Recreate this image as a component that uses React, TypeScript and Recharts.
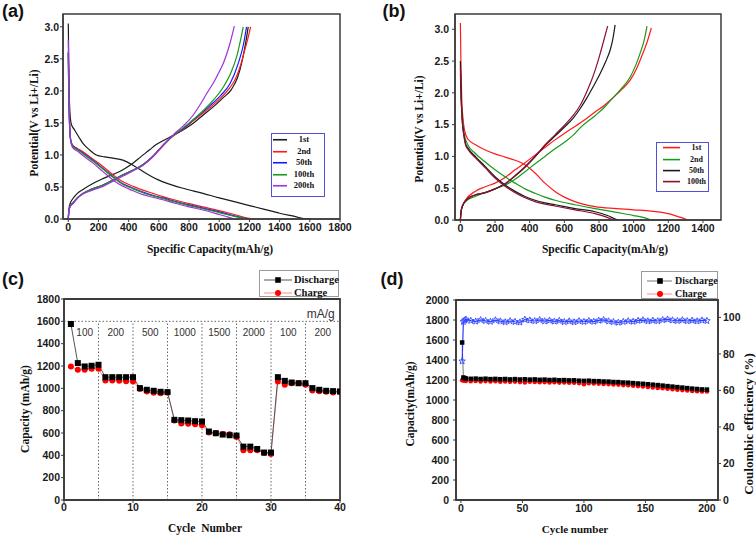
import React from 'react';
import { LineChart, Line, XAxis, YAxis, ReferenceArea, ReferenceLine, ReferenceDot, Legend } from 'recharts';

const SANS = '"Liberation Sans", Arial, sans-serif';
const SERIF = '"Liberation Serif", "Times New Roman", serif';
const AXIS = '#3c3c3c';
const tickText = { fill: '#1a1a1a', fontSize: 10.5, fontWeight: 700, fontFamily: SANS };

type Pt = [number, number];
const toXY = (a: Pt[]) => a.map(([x, y]) => ({ x, y }));

// ---------- (a) voltage profiles ----------
const capTicksA = [0, 200, 400, 600, 800, 1000, 1200, 1400, 1600, 1800];
const potTicks = [0, 0.5, 1, 1.5, 2, 2.5, 3];

const a1Dis: Pt[] = [[0,3.05],[3,2.5],[6,2.0],[10,1.7],[20,1.48],[42,1.39],[70,1.28],[97,1.18],[140,1.08],[186,1.0],[240,0.97],[296,0.95],[362,0.92],[428,0.84],[470,0.78],[517,0.71],[570,0.64],[627,0.58],[700,0.52],[760,0.48],[892,0.4],[1000,0.33],[1100,0.27],[1200,0.21],[1300,0.15],[1400,0.09],[1500,0.04],[1580,0],[1610,0]];
const a1Ch: Pt[] = [[0,0],[4,0.15],[12,0.24],[31,0.32],[60,0.4],[97,0.46],[160,0.55],[230,0.63],[300,0.7],[362,0.77],[428,0.87],[480,0.97],[539,1.08],[580,1.16],[627,1.22],[700,1.31],[760,1.39],[830,1.5],[892,1.62],[960,1.75],[1020,1.88],[1080,2.02],[1120,2.2],[1150,2.45],[1175,2.75],[1192,3.0]];
const a2Dis: Pt[] = [[0,2.6],[3,2.0],[8,1.5],[15,1.25],[25,1.17],[35,1.14],[60,1.1],[97,1.05],[160,0.94],[230,0.82],[296,0.69],[362,0.58],[430,0.51],[495,0.45],[560,0.4],[627,0.35],[700,0.3],[800,0.24],[892,0.19],[1000,0.13],[1100,0.07],[1180,0.02],[1220,0]];
const a2Ch: Pt[] = [[0,0],[4,0.13],[12,0.2],[31,0.25],[60,0.33],[97,0.4],[160,0.47],[230,0.53],[296,0.61],[362,0.69],[428,0.76],[495,0.84],[561,0.97],[627,1.14],[693,1.29],[760,1.4],[806,1.49],[870,1.61],[939,1.74],[1010,1.89],[1071,2.05],[1110,2.2],[1137,2.37],[1165,2.6],[1188,2.8],[1208,3.0]];
const a50Dis: Pt[] = [[0,2.6],[3,2.0],[8,1.5],[15,1.24],[25,1.16],[35,1.13],[60,1.09],[97,1.03],[160,0.92],[230,0.79],[296,0.66],[362,0.55],[430,0.48],[495,0.42],[560,0.37],[627,0.33],[700,0.28],[800,0.22],[892,0.17],[1000,0.11],[1100,0.05],[1190,0]];
const a50Ch: Pt[] = [[0,0],[4,0.13],[12,0.2],[31,0.25],[60,0.33],[97,0.4],[160,0.47],[230,0.53],[296,0.61],[362,0.69],[428,0.76],[495,0.85],[561,0.98],[627,1.15],[693,1.3],[760,1.41],[806,1.5],[870,1.63],[939,1.77],[1010,1.93],[1071,2.11],[1126,2.43],[1160,2.72],[1181,3.0]];
const a100Dis: Pt[] = [[0,2.6],[3,2.0],[8,1.5],[15,1.24],[25,1.15],[35,1.12],[60,1.08],[97,1.02],[160,0.91],[230,0.78],[296,0.65],[362,0.54],[430,0.47],[495,0.41],[560,0.36],[627,0.32],[700,0.27],[800,0.21],[892,0.16],[1000,0.1],[1100,0.04],[1180,0]];
const a100Ch: Pt[] = [[0,0],[4,0.13],[12,0.2],[31,0.25],[60,0.33],[97,0.4],[160,0.47],[230,0.53],[296,0.61],[362,0.69],[428,0.76],[495,0.85],[561,0.98],[627,1.15],[693,1.3],[760,1.42],[806,1.51],[870,1.64],[939,1.8],[1027,2.06],[1080,2.3],[1115,2.53],[1140,2.78],[1159,3.0]];
const a200Dis: Pt[] = [[0,2.8],[3,2.2],[8,1.6],[15,1.25],[25,1.13],[35,1.1],[60,1.06],[97,0.99],[160,0.88],[230,0.74],[296,0.61],[362,0.51],[430,0.44],[495,0.38],[560,0.34],[627,0.3],[700,0.25],[800,0.19],[892,0.14],[1000,0.07],[1060,0.03],[1100,0]];
const a200Ch: Pt[] = [[0,0],[4,0.12],[12,0.19],[31,0.24],[60,0.32],[97,0.39],[160,0.45],[230,0.51],[296,0.59],[362,0.67],[428,0.75],[495,0.84],[561,0.98],[627,1.15],[693,1.31],[760,1.45],[820,1.6],[872,1.78],[920,1.97],[960,2.12],[1000,2.3],[1027,2.43],[1050,2.58],[1071,2.74],[1100,3.01]];

// ---------- (b) voltage profiles ----------
const capTicksB = [0, 200, 400, 600, 800, 1000, 1200, 1400];

const b1Dis: Pt[] = [[0,3.1],[3,2.5],[8,1.9],[15,1.6],[25,1.4],[44,1.27],[90,1.18],[144,1.1],[200,1.04],[258,0.99],[316,0.94],[373,0.87],[431,0.74],[488,0.58],[546,0.45],[600,0.36],[661,0.29],[777,0.21],[900,0.18],[1000,0.16],[1100,0.14],[1200,0.1],[1260,0.05],[1295,0.02],[1310,0]];
const b1Ch: Pt[] = [[0,0],[4,0.13],[12,0.22],[29,0.31],[85,0.45],[140,0.52],[200,0.58],[258,0.67],[316,0.79],[373,0.9],[430,1.02],[488,1.14],[546,1.26],[604,1.37],[661,1.47],[720,1.58],[777,1.7],[830,1.8],[880,1.92],[930,2.05],[980,2.2],[1020,2.4],[1050,2.6],[1080,2.82],[1102,3.02]];
const b2Dis: Pt[] = [[0,2.3],[5,1.9],[12,1.6],[22,1.35],[40,1.2],[85,1.05],[140,0.92],[200,0.79],[258,0.68],[316,0.58],[373,0.49],[431,0.42],[488,0.36],[546,0.31],[661,0.24],[777,0.18],[900,0.12],[1000,0.07],[1070,0.03],[1100,0]];
const b2Ch: Pt[] = [[0,0],[4,0.13],[12,0.22],[35,0.3],[85,0.37],[170,0.46],[258,0.55],[316,0.64],[373,0.76],[430,0.88],[488,1.0],[546,1.12],[604,1.23],[650,1.33],[691,1.45],[777,1.64],[830,1.77],[880,1.92],[930,2.07],[980,2.25],[1010,2.42],[1037,2.62],[1060,2.82],[1077,3.05]];
const b50Dis: Pt[] = [[0,2.5],[4,2.0],[10,1.6],[20,1.35],[30,1.2],[44,1.13],[90,0.99],[144,0.84],[200,0.68],[258,0.55],[316,0.45],[373,0.37],[431,0.31],[488,0.27],[546,0.24],[661,0.18],[777,0.13],[850,0.07],[890,0.02],[910,0]];
const b50Ch: Pt[] = [[0,0],[4,0.13],[12,0.22],[40,0.33],[80,0.39],[144,0.43],[200,0.49],[258,0.57],[316,0.69],[373,0.83],[430,0.99],[488,1.17],[546,1.32],[604,1.47],[650,1.6],[691,1.75],[730,1.92],[767,2.1],[806,2.3],[840,2.5],[864,2.67],[880,2.85],[893,3.07]];
const b100Dis: Pt[] = [[0,2.4],[4,1.95],[10,1.58],[20,1.33],[30,1.18],[44,1.11],[90,0.97],[144,0.82],[200,0.66],[258,0.53],[316,0.43],[373,0.35],[431,0.29],[488,0.25],[546,0.22],[661,0.16],[777,0.1],[840,0.05],[880,0]];
const b100Ch: Pt[] = [[0,0],[4,0.13],[12,0.22],[40,0.33],[80,0.39],[144,0.43],[200,0.49],[258,0.57],[316,0.7],[373,0.84],[430,1.0],[488,1.18],[546,1.34],[604,1.5],[650,1.64],[691,1.8],[730,2.02],[777,2.35],[805,2.6],[825,2.8],[850,3.05]];

// ---------- (c) rate capability ----------
const cycC = [1,2,3,4,5,6,7,8,9,10,11,12,13,14,15,16,17,18,19,20,21,22,23,24,25,26,27,28,29,30,31,32,33,34,35,36,37,38,39,40];
const disC = [1576,1226,1196,1202,1211,1100,1100,1100,1100,1100,1002,987,978,969,966,718,715,712,706,703,613,598,586,580,577,478,478,457,425,425,1100,1067,1052,1046,1046,1002,987,978,975,972];
const chC = [1196,1166,1166,1175,1175,1070,1070,1067,1064,1061,993,972,960,957,963,712,685,682,679,670,604,598,592,589,565,446,446,446,422,413,1061,1031,1046,1046,1031,981,975,969,963,966];
const rateLabels = ['100', '200', '500', '1000', '1500', '2000', '100', '200'];
const rateBounds = [5, 10, 15, 20, 25, 30, 35];
const capTicksC = [0, 200, 400, 600, 800, 1000, 1200, 1400, 1600, 1800];

// ---------- (d) long cycling ----------
const cycD = [1,2,3,4,8,12,16,20,24,28,32,36,40,44,48,52,56,60,64,68,72,76,80,84,88,92,96,100,104,108,112,116,120,124,128,132,136,140,144,148,152,156,160,164,168,172,176,180,184,188,192,196,200];
const disD = [1575,1225,1218,1215,1212,1214,1210,1213,1209,1211,1208,1210,1206,1209,1205,1207,1204,1206,1202,1204,1200,1202,1198,1199,1196,1197,1193,1191,1193,1189,1188,1185,1184,1180,1179,1175,1173,1169,1165,1162,1158,1153,1149,1144,1139,1134,1129,1124,1119,1114,1110,1106,1104];
const chD = [1198,1196,1193,1191,1188,1190,1186,1189,1185,1187,1183,1186,1182,1184,1179,1175,1182,1180,1177,1179,1176,1177,1174,1175,1172,1173,1169,1158,1168,1165,1164,1161,1159,1155,1154,1149,1147,1143,1139,1135,1131,1126,1121,1117,1112,1108,1103,1099,1095,1091,1088,1086,1085];
const ceD = [76,97.6,98.4,98.9,98.2,97.8,98.6,98.1,97.7,98.5,97.9,97.4,98.0,97.6,97.3,98.8,98.4,98.0,98.6,97.9,98.3,97.8,98.2,97.5,97.9,97.4,98.0,97.6,98.1,97.7,98.3,98.6,97.9,97.5,97.2,97.6,98.0,97.7,98.2,98.5,97.9,98.3,98.0,98.6,98.9,98.4,98.1,98.5,98.0,98.3,97.9,98.4,98.1];
const capTicksD = [0, 200, 400, 600, 800, 1000, 1200, 1400, 1600, 1800, 2000];
const ceTicks = [0, 20, 40, 60, 80, 100];

// ---------- helpers ----------
const axisLine = { stroke: AXIS, strokeWidth: 1.5 };
const tickLine = { stroke: AXIS };

const squareDot = (size: number) => (p: any) => (
  <rect key={`sq-${p.index}`} x={p.cx - size / 2} y={p.cy - size / 2} width={size} height={size} fill="#000" />
);

const starDot = (p: any) => {
  const { cx, cy, index } = p;
  if (cx == null || cy == null) return <g key={`st-${index}`} />;
  const pts: string[] = [];
  for (let k = 0; k < 10; k++) {
    const r = k % 2 === 0 ? 3.4 : 1.5;
    const a = -Math.PI / 2 + (k * Math.PI) / 5;
    pts.push(`${cx + r * Math.cos(a)},${cy + r * Math.sin(a)}`);
  }
  return <polygon key={`st-${index}`} points={pts.join(' ')} fill="none" stroke="#3347ff" strokeWidth={0.9} />;
};

function LineKey({ items, w, h, rowH, first, lx1, lx2, tx, tw, fs }: any) {
  return (
    <div style={{ position: 'relative', width: w, height: h, boxSizing: 'border-box', border: '1.5px solid #5050d8', background: '#fff' }}>
      {items.map((it: any, i: number) => (
        <div key={it.name} style={{ position: 'absolute', left: 0, top: first + i * rowH - rowH / 2, height: rowH, width: w - 3 }}>
          <svg width={lx2 + 2} height={rowH} style={{ position: 'absolute', left: 0, top: 0 }}>
            <line x1={lx1} x2={lx2} y1={rowH / 2} y2={rowH / 2} stroke={it.color} strokeWidth={1.6} />
          </svg>
          <span style={{ position: 'absolute', left: tx, width: tw, top: 0, lineHeight: `${rowH}px`, textAlign: 'center', fontFamily: SERIF, fontWeight: 700, fontSize: fs, color: '#111' }}>
            {it.name}
          </span>
        </div>
      ))}
    </div>
  );
}

function MarkerKey({ w, h, rows, line, mark, tx, fs }: any) {
  return (
    <div style={{ position: 'relative', width: w, height: h, boxSizing: 'border-box', border: '1px solid #9a9a9a', background: '#fff' }}>
      {rows.map((r: any) => (
        <div key={r.name} style={{ position: 'absolute', left: 0, top: r.cy - 7, height: 14, width: w - 2 }}>
          <svg width={line[1] + 4} height={14} style={{ position: 'absolute', left: 0, top: 0 }}>
            <line x1={line[0]} x2={line[1]} y1={7} y2={7} stroke={r.lineColor} strokeWidth={1} />
            {r.kind === 'square'
              ? <rect x={mark - 2.8} y={4.2} width={5.6} height={5.6} fill="#000" />
              : <circle cx={mark} cy={7} r={3} fill="#ff0000" />}
          </svg>
          <span style={{ position: 'absolute', left: tx, top: 0, lineHeight: '14px', fontFamily: SERIF, fontWeight: 700, fontSize: fs, color: '#111', whiteSpace: 'nowrap' }}>
            {r.name}
          </span>
        </div>
      ))}
    </div>
  );
}

function Txt({ x, y, rot, size, font, weight = 700, children }: any) {
  return (
    <div style={{
      position: 'absolute', left: x, top: y,
      transform: `translate(-50%, -50%)${rot ? ` rotate(${rot}deg)` : ''}`,
      whiteSpace: 'nowrap', fontSize: size, fontFamily: font, fontWeight: weight, lineHeight: 1, color: '#111',
    }}>
      {children}
    </div>
  );
}

function ProfileChart({ series, left, xDomain, xTicks, yTop, margin, ytm, keyBox }: any) {
  return (
    <div style={{ position: 'absolute', left, top: 0 }}>
      <LineChart width={378} height={270} margin={margin}>
        <XAxis type="number" dataKey="x" domain={xDomain} allowDataOverflow ticks={xTicks} interval={0} height={25}
          tickSize={3} tickMargin={2} axisLine={axisLine} tickLine={tickLine} tick={tickText} />
        <YAxis type="number" domain={[0, yTop]} allowDataOverflow ticks={potTicks} interval={0} width={30}
          tickSize={3} tickMargin={ytm} tickFormatter={(v: number) => v.toFixed(1)}
          axisLine={axisLine} tickLine={tickLine} tick={tickText} />
        <ReferenceArea x1={xDomain[0]} x2={xDomain[1]} y1={0} y2={yTop} fill="none" stroke={AXIS} strokeWidth={1.5} />
        {series.flatMap((s: any) => [
          <Line key={s.name + '-d'} data={toXY(s.dis)} dataKey="y" type="monotone" stroke={s.color} strokeWidth={1.2}
            dot={false} activeDot={false} isAnimationActive={false} />,
          <Line key={s.name + '-c'} data={toXY(s.ch)} dataKey="y" type="monotone" stroke={s.color} strokeWidth={1.2}
            dot={false} activeDot={false} isAnimationActive={false} />,
        ])}
        <Legend layout="horizontal" align="center" verticalAlign="middle"
          wrapperStyle={{ left: keyBox.left, top: keyBox.top, width: keyBox.w, height: keyBox.h }}
          content={() => <LineKey items={series} {...keyBox} />} />
      </LineChart>
    </div>
  );
}

function PanelA() {
  const series = [
    { name: '1st', color: '#1a1a1a', dis: a1Dis, ch: a1Ch },
    { name: '2nd', color: '#ff1a1a', dis: a2Dis, ch: a2Ch },
    { name: '50th', color: '#1a1aff', dis: a50Dis, ch: a50Ch },
    { name: '100th', color: '#1a9a1a', dis: a100Dis, ch: a100Ch },
    { name: '200th', color: '#a030e0', dis: a200Dis, ch: a200Ch },
  ];
  return (
    <ProfileChart series={series} left={0} xDomain={[-35, 1800]} xTicks={capTicksA} yTop={3.2} ytm={1}
      margin={{ top: 14, right: 38, bottom: 26, left: 33 }}
      keyBox={{ left: 271, top: 133, w: 54, h: 64, rowH: 11.5, first: 5.8, lx1: 1, lx2: 15, tx: 17, tw: 30, fs: 8.5 }} />
  );
}

function PanelB() {
  const series = [
    { name: '1st', color: '#ff1a1a', dis: b1Dis, ch: b1Ch },
    { name: '2nd', color: '#1a9a1a', dis: b2Dis, ch: b2Ch },
    { name: '50th', color: '#1a1a1a', dis: b50Dis, ch: b50Ch },
    { name: '100th', color: '#8a1030', dis: b100Dis, ch: b100Ch },
  ];
  return (
    <ProfileChart series={series} left={378} xDomain={[-31, 1504]} xTicks={capTicksB} yTop={3.24} ytm={3}
      margin={{ top: 14, right: 35, bottom: 25, left: 47 }}
      keyBox={{ left: 278, top: 142, w: 53, h: 50, rowH: 11.2, first: 5, lx1: 6, lx2: 23, tx: 27, tw: 25, fs: 8 }} />
  );
}

function PanelC() {
  const rows = cycC.map((c, i) => ({ cycle: c, dis: disC[i], ch: chC[i] }));
  const edges = [1, ...rateBounds, 40];
  return (
    <div style={{ position: 'absolute', left: 0, top: 270 }}>
      <LineChart width={378} height={267} data={rows} margin={{ top: 29, right: 38, bottom: 12, left: 34 }}>
        <XAxis type="number" dataKey="cycle" domain={[0, 40]} allowDataOverflow ticks={[0, 10, 20, 30, 40]} interval={0}
          height={25} tickSize={3} tickMargin={1} axisLine={axisLine} tickLine={tickLine} tick={tickText} />
        <YAxis type="number" domain={[0, 1800]} allowDataOverflow ticks={capTicksC} interval={0} width={30}
          tickSize={3} tickMargin={1} axisLine={axisLine} tickLine={tickLine} tick={tickText} />
        <ReferenceArea x1={0} x2={40} y1={0} y2={1800} fill="none" stroke={AXIS} strokeWidth={1.8} />
        <ReferenceLine y={1600} stroke="#666" strokeDasharray="1.5 2" />
        {rateBounds.map((b) => (
          <ReferenceLine key={`rb-${b}`} segment={[{ x: b, y: 0 }, { x: b, y: 1600 }]} stroke="#666" strokeDasharray="1.5 2" />
        ))}
        {rateLabels.map((r, i) => (
          <ReferenceDot key={`rl-${i}`} x={(edges[i] + edges[i + 1]) / 2} y={1500} r={0} fill="none" stroke="none"
            label={{ value: r, position: 'center', fill: '#333', fontSize: 10, fontFamily: SANS }} />
        ))}
        <ReferenceDot x={37.2} y={1668} r={0} fill="none" stroke="none"
          label={{ value: 'mA/g', position: 'center', fill: '#333', fontSize: 12, fontFamily: SANS }} />
        <Line dataKey="ch" type="linear" stroke="#ff8a8a" strokeWidth={1} dot={{ r: 3, fill: '#ff0000', stroke: 'none' }}
          activeDot={false} isAnimationActive={false} />
        <Line dataKey="dis" type="linear" stroke="#555" strokeWidth={1} dot={squareDot(6)}
          activeDot={false} isAnimationActive={false} />
        <Legend layout="horizontal" align="center" verticalAlign="middle"
          wrapperStyle={{ left: 259, top: 0, width: 80, height: 27 }}
          content={() => (
            <MarkerKey w={80} h={27} line={[4, 32]} mark={18} tx={34} fs={10.5}
              rows={[{ name: 'Discharge', cy: 8.5, lineColor: '#555', kind: 'square' },
                     { name: 'Charge', cy: 21.5, lineColor: '#ff8a8a', kind: 'circle' }]} />
          )} />
      </LineChart>
    </div>
  );
}

function PanelD() {
  const rows = cycD.map((c, i) => ({ cycle: c, dis: disD[i], ch: chD[i], ce: ceD[i] }));
  return (
    <div style={{ position: 'absolute', left: 378, top: 270 }}>
      <LineChart width={378} height={267} data={rows} margin={{ top: 30, right: 8, bottom: 12, left: 48 }}>
        <XAxis type="number" dataKey="cycle" domain={[-4, 209]} allowDataOverflow ticks={[0, 50, 100, 150, 200]} interval={0}
          height={25} tickSize={3} tickMargin={2} axisLine={axisLine} tickLine={tickLine} tick={tickText} />
        <YAxis yAxisId="cap" type="number" domain={[0, 2000]} allowDataOverflow ticks={capTicksD} interval={0} width={30}
          tickSize={3} tickMargin={4} axisLine={axisLine} tickLine={tickLine} tick={tickText} />
        <YAxis yAxisId="ce" orientation="right" type="number" domain={[0, 109.5]} allowDataOverflow ticks={ceTicks} interval={0}
          width={30} tickSize={3} tickMargin={2} axisLine={axisLine} tickLine={tickLine} tick={tickText} />
        <ReferenceArea yAxisId="cap" x1={-4} x2={209} y1={0} y2={2000} fill="none" stroke={AXIS} strokeWidth={1.8} />
        <Line yAxisId="cap" dataKey="ch" type="linear" stroke="#ff8a8a" strokeWidth={1} dot={{ r: 2.3, fill: '#ff0000', stroke: 'none' }}
          activeDot={false} isAnimationActive={false} />
        <Line yAxisId="cap" dataKey="dis" type="linear" stroke="#777" strokeWidth={1} dot={squareDot(4.5)}
          activeDot={false} isAnimationActive={false} />
        <Line yAxisId="ce" dataKey="ce" type="linear" stroke="#2a3cff" strokeWidth={1.2} dot={starDot}
          activeDot={false} isAnimationActive={false} />
        <Legend layout="horizontal" align="center" verticalAlign="middle"
          wrapperStyle={{ left: 263, top: 1, width: 77, height: 28 }}
          content={() => (
            <MarkerKey w={77} h={28} line={[5, 30]} mark={18} tx={33} fs={10}
              rows={[{ name: 'Discharge', cy: 8.5, lineColor: '#777', kind: 'square' },
                     { name: 'Charge', cy: 21.5, lineColor: '#ff8a8a', kind: 'circle' }]} />
          )} />
      </LineChart>
    </div>
  );
}

export default function App() {
  return (
    <div style={{ position: 'absolute', left: 0, top: 0, width: 756, height: 537, overflow: 'hidden', background: '#fff' }}>
      <PanelA />
      <PanelB />
      <PanelC />
      <PanelD />

      <Txt x={13} y={11} size={18} font={SANS}>(a)</Txt>
      <Txt x={394} y={11} size={18} font={SANS}>(b)</Txt>
      <Txt x={13} y={279} size={18} font={SANS}>(c)</Txt>
      <Txt x={392} y={279} size={18} font={SANS}>(d)</Txt>

      <Txt x={35} y={123} rot={-90} size={11.5} font={SERIF}>Potential(V vs Li+/Li)</Txt>
      <Txt x={210} y={250} size={11.5} font={SERIF}>Specific Capacity(mAh/g)</Txt>
      <Txt x={420} y={129} rot={-90} size={11.5} font={SERIF}>Potential(V vs Li+/Li)</Txt>
      <Txt x={605} y={250} size={11.5} font={SERIF}>Specific Capacity(mAh/g)</Txt>

      <Txt x={26} y={409} rot={-90} size={11.5} font={SERIF}>Capacity (mAh/g)</Txt>
      <Txt x={205} y={529} size={11.5} font={SERIF}>{'Cycle\u00a0\u00a0Number'}</Txt>

      <Txt x={411} y={404} rot={-90} size={11.5} font={SERIF}>Capacity(mAh/g)</Txt>
      <Txt x={748} y={424} rot={-90} size={13} font={SERIF}>Coulombic efficiency (%)</Txt>
      <Txt x={575} y={529} size={11} font={SERIF}>Cycle number</Txt>
    </div>
  );
}
